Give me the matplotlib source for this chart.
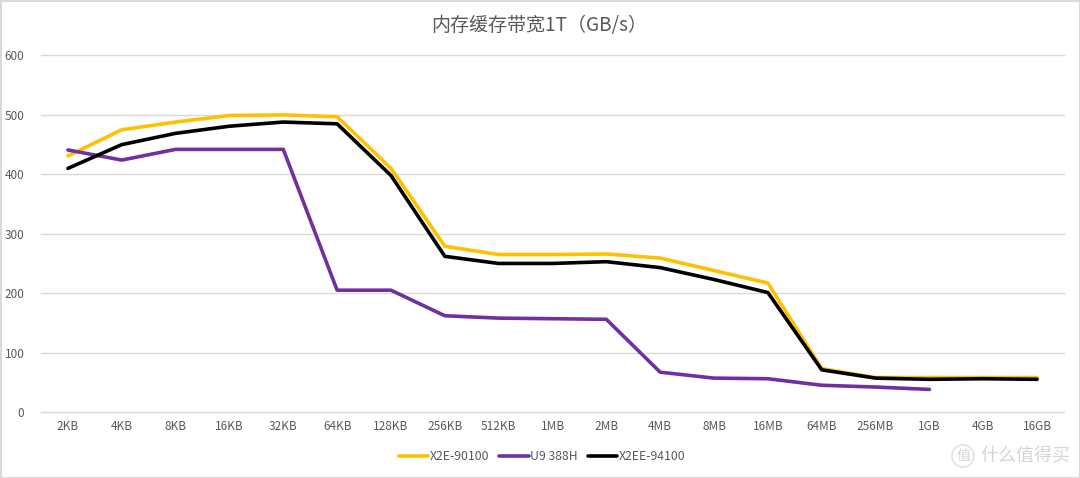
import numpy as np
import matplotlib
matplotlib.use("Agg")
import matplotlib.pyplot as plt
from matplotlib.patches import Circle, Rectangle
from matplotlib.transforms import IdentityTransform

plt.rcParams['font.family'] = ['Noto Sans CJK SC', 'DejaVu Sans']

sizes = ["2KB", "4KB", "8KB", "16KB", "32KB", "64KB", "128KB", "256KB", "512KB", "1MB",
         "2MB", "4MB", "8MB", "16MB", "64MB", "256MB", "1GB", "4GB", "16GB"]
x2e_90100 = [431, 475, 488, 499, 500, 497, 410, 279, 265, 265, 266, 259, 238, 217, 73, 58, 58, 58, 58]
u9_388h = [441, 424, 442, 442, 442, 205, 205, 162, 158, 157, 156, 67, 57, 56, 45, 42, 38]
x2ee_94100 = [410, 450, 469, 481, 488, 485, 398, 262, 250, 250, 253, 243, 223, 201, 71, 57, 55, 56, 55]
y_ticks = [0, 100, 200, 300, 400, 500, 600]

W, H = 1080, 478
fig = plt.figure(figsize=(W / 100, H / 100), dpi=100)
ax = fig.add_axes([41 / W, 1 - 412 / H, (1064 - 41) / W, (412 - 55.5) / H])

idx = np.arange(len(sizes))
ax.plot(idx, x2e_90100, color="#FFC000", lw=2.6, label="X2E-90100", solid_capstyle="round")
ax.plot(idx[:len(u9_388h)], u9_388h, color="#7030A0", lw=2.6, label="U9 388H", solid_capstyle="round")
ax.plot(idx, x2ee_94100, color="#000000", lw=2.6, label="X2EE-94100", solid_capstyle="round")

ax.set_xlim(-0.5, len(sizes) - 0.5)
ax.set_ylim(0, 600)
ax.set_xticks(idx)
ax.set_xticklabels(sizes)
ax.set_yticks(y_ticks)
ax.tick_params(axis="both", length=0, labelsize=8.5, labelcolor="#595959")
ax.tick_params(axis="x", pad=6)
ax.tick_params(axis="y", pad=12)
ax.grid(axis="y", color="#D9D9D9", lw=1, clip_on=False)
ax.set_axisbelow(True)
for name in ["top", "left", "right"]:
    ax.spines[name].set_visible(False)
ax.spines["bottom"].set_color("#D9D9D9")

fig.text(539.5 / W, 1 - 25 / H, "内存缓存带宽1T（GB/s）", ha="center", va="center",
         fontsize=13.7, color="#595959")

ax.legend(loc="center", bbox_to_anchor=(542 / W, 1 - 457 / H), bbox_transform=fig.transFigure,
          ncol=3, frameon=False, fontsize=8.8, labelcolor="#595959", handlelength=2.4,
          handletextpad=0.1, columnspacing=0.85)

# outer frame of the chart area
fig.add_artist(Rectangle((0.5 / W, 0.5 / H), (W - 1) / W, (H - 1) / H, transform=fig.transFigure,
                         fill=False, ec="#D9D9D9", lw=1.5))

# site mark in the lower right corner
fig.add_artist(Circle((963, 22), 11, transform=IdentityTransform(), fill=False,
                      ec="#DDDDDD", lw=1))
fig.text(963 / W, 1 - 456 / H, "值", ha="center", va="center", fontsize=10, color="#D5D5D5")
fig.text(1025 / W, 1 - 456 / H, "什么值得买", ha="center", va="center", fontsize=13, color="#D5D5D5")

fig.savefig("out.png", dpi=100)
